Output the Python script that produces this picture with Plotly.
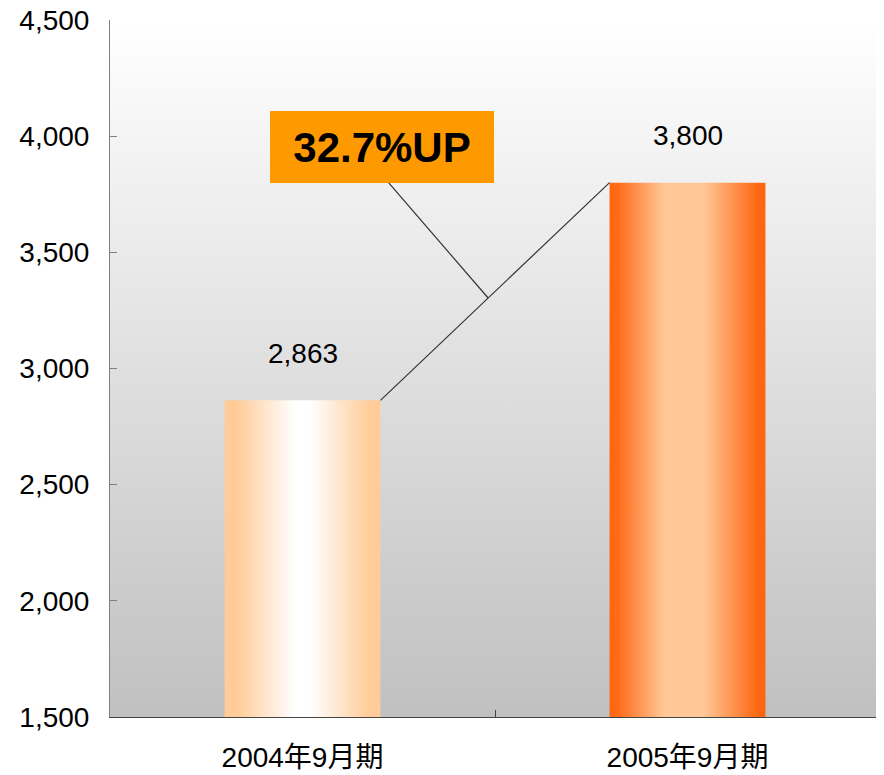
import plotly.graph_objects as go

# ---- data ----
categories = ["2004年9月期", "2005年9月期"]
values = [2863, 3800]
growth_label = "32.7%UP"
y_ticks = [1500, 2000, 2500, 3000, 3500, 4000, 4500]

# ---- styles ----
FONT = "Liberation Sans, Arial, Noto Sans CJK JP, sans-serif"
BAR_WIDTH = 0.405
Y_MIN, Y_MAX = 1500, 4500
gradients = [
    [[0, "#FFCC99"], [0.08, "#FFCC99"], [0.45, "#FFFFFF"], [0.55, "#FFFFFF"],
     [0.93, "#FFCC99"], [1, "#FFCC99"]],
    [[0, "#FF6611"], [0.05, "#FF6A18"], [0.35, "#FFC896"], [0.6, "#FFC896"],
     [0.96, "#FF6611"], [1, "#FF6611"]],
]

fig = go.Figure()

# bars drawn as filled polygons with horizontal gradient
for i, (cat, v) in enumerate(zip(categories, values)):
    x0, x1 = i - BAR_WIDTH / 2, i + BAR_WIDTH / 2
    fig.add_trace(go.Scatter(
        x=[x0, x1, x1, x0, x0], y=[Y_MIN, Y_MIN, v, v, Y_MIN],
        mode="lines", line=dict(width=0), fill="toself",
        fillgradient=dict(type="horizontal", colorscale=gradients[i]),
        hoverinfo="skip", showlegend=False, name=cat,
    ))

# value labels
for i, v in enumerate(values):
    fig.add_annotation(x=i, y=v, text=f"{v:,}", showarrow=False, yshift=47,
                       yanchor="middle", font=dict(family=FONT, size=28, color="#000000"))

# connector between bar tops
xa, ya = 0 + BAR_WIDTH / 2, values[0]
xb, yb = 1 - BAR_WIDTH / 2, values[1]
fig.add_shape(type="line", x0=xa, y0=ya, x1=xb, y1=yb, xref="x", yref="y",
              line=dict(color="#333333", width=1.2))

# callout box
BOX_X = 0.2055
fig.add_annotation(x=BOX_X, y=values[1], xref="x", yref="y", yanchor="bottom",
                   xanchor="center", text=f"<b>{growth_label}</b>", showarrow=False,
                   width=224, height=72, bgcolor="#FF9900", borderpad=0, borderwidth=0,
                   font=dict(family=FONT, size=42, color="#000000"))
# pointer line from box to connector
t = 0.47
fig.add_shape(type="line", x0=BOX_X + 0.018, y0=values[1],
              x1=xa + t * (xb - xa), y1=ya + t * (yb - ya),
              xref="x", yref="y", line=dict(color="#333333", width=1.2))

bg_svg = ("data:image/svg+xml;utf8,<svg xmlns='http://www.w3.org/2000/svg' width='100' height='100' "
          "preserveAspectRatio='none'><defs><linearGradient id='g' x1='0' y1='0' x2='0' y2='1'>"
          "<stop offset='0' stop-color='%23FFFFFF'/><stop offset='1' stop-color='%23C0C0C0'/>"
          "</linearGradient></defs><rect width='100' height='100' fill='url(%23g)'/></svg>")
fig.add_layout_image(source=bg_svg, xref="paper", yref="paper", x=0, y=1, sizex=1, sizey=1,
                     sizing="stretch", xanchor="left", yanchor="top", layer="below")

fig.update_layout(
    width=876, height=767,
    margin=dict(l=102, r=4, t=12, b=58, autoexpand=False),
    paper_bgcolor="#FFFFFF", plot_bgcolor="rgba(0,0,0,0)",
    font=dict(family=FONT, size=28, color="#000000"),
    showlegend=False,
    xaxis=dict(range=[-0.5, 1.5], tickvals=list(range(len(categories))), ticktext=categories,
               ticks="", showgrid=False, zeroline=False, showline=True, linecolor="#444444",
               linewidth=1, ticklabelstandoff=15, ticklabeloverflow="allow", fixedrange=True,
               minor=dict(tickvals=[0.5], ticks="inside", ticklen=7, tickcolor="#444444", showgrid=False)),
    yaxis=dict(range=[Y_MIN, Y_MAX], tickvals=y_ticks, tickformat=",", ticks="inside", ticklen=7,
               tickcolor="#808080", showgrid=False, zeroline=False, showline=True,
               linecolor="#808080", linewidth=1, ticklabelstandoff=14,
               ticklabeloverflow="allow", fixedrange=True),
)

fig.write_html("out.html")
